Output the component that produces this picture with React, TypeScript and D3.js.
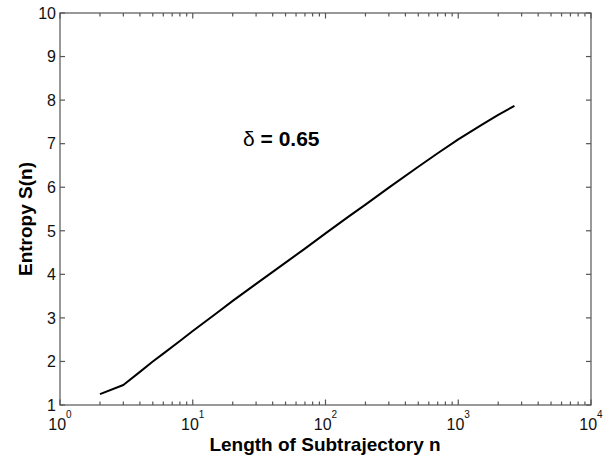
import React from "react";
import * as d3 from "d3";

const nValues = [2, 3, 4, 5, 6, 8, 10, 15, 20, 30, 50, 70, 100, 150, 200, 300, 500, 700, 1000, 1500, 2000, 2650];
const entropyValues = [1.25, 1.46, 1.76, 2.0, 2.18, 2.47, 2.7, 3.1, 3.39, 3.78, 4.27, 4.59, 4.94, 5.33, 5.6, 5.99, 6.47, 6.78, 7.1, 7.43, 7.66, 7.87];
const yTicks = [1, 2, 3, 4, 5, 6, 7, 8, 9, 10];
const xDecadeExponents = [0, 1, 2, 3, 4];
const xLabel = "Length of Subtrajectory n";
const yLabel = "Entropy S(n)";
const annotation = "0.65";

const W = 609, H = 461;
const M = { left: 60, right: 18, top: 13, bottom: 56 };

export default function App() {
  const x = d3.scaleLog().domain([1, 10000]).range([M.left, W - M.right]);
  const y = d3.scaleLinear().domain([1, 10]).range([H - M.bottom, M.top]);
  const x0 = M.left, x1 = W - M.right, y0 = H - M.bottom, y1 = M.top;
  const line = d3.line<number>().x((_, i) => x(nValues[i])).y((d) => y(d));
  const minor: number[] = [];
  for (let e = 0; e < 4; e++) for (let k = 2; k <= 9; k++) minor.push(k * Math.pow(10, e));
  const axisColor = "#555";
  const font = "'Liberation Sans', Arial, sans-serif";
  return (
    <svg width={W} height={H} style={{ position: "absolute", left: 0, top: 0, background: "#fff" }} fontFamily={font}>
      <rect x={x0} y={y1} width={x1 - x0} height={y0 - y1} fill="none" stroke={axisColor} strokeWidth={1.2} />
      {yTicks.map((t) => (
        <g key={"y" + t}>
          <line x1={x0} x2={x0 + 5} y1={y(t)} y2={y(t)} stroke={axisColor} strokeWidth={1.2} />
          <line x1={x1} x2={x1 - 5} y1={y(t)} y2={y(t)} stroke={axisColor} strokeWidth={1.2} />
          <text x={56} y={y(t)} dy="0.36em" textAnchor="end" fontSize={16} fill="#111">{t}</text>
        </g>
      ))}
      {minor.map((m) => (
        <g key={"m" + m}>
          <line x1={x(m)} x2={x(m)} y1={y0} y2={y0 - 3.5} stroke={axisColor} strokeWidth={1.2} />
          <line x1={x(m)} x2={x(m)} y1={y1} y2={y1 + 3.5} stroke={axisColor} strokeWidth={1.2} />
        </g>
      ))}
      {xDecadeExponents.map((e) => {
        const v = Math.pow(10, e);
        return (
          <g key={"x" + e}>
            <line x1={x(v)} x2={x(v)} y1={y0} y2={y0 - 5.5} stroke={axisColor} strokeWidth={1.2} />
            <line x1={x(v)} x2={x(v)} y1={y1} y2={y1 + 5.5} stroke={axisColor} strokeWidth={1.2} />
            <text x={x(v)} y={429.5} textAnchor="middle" fontSize={16} fill="#111">
              10<tspan fontSize={10} dy={-12}>{e}</tspan>
            </text>
          </g>
        );
      })}
      <path d={line(entropyValues) || ""} fill="none" stroke="#000" strokeWidth={2} strokeLinejoin="round" />
      <text x={243} y={146} fontSize={21} fontWeight="bold" fill="#000">
        <tspan fontWeight="normal">δ</tspan> = {annotation}
      </text>
      <text x={325} y={451} textAnchor="middle" fontSize={19} fontWeight="bold" fill="#000">{xLabel}</text>
      <text transform={`translate(32,219) rotate(-90)`} textAnchor="middle" fontSize={19} fontWeight="bold" fill="#000">{yLabel}</text>
    </svg>
  );
}
